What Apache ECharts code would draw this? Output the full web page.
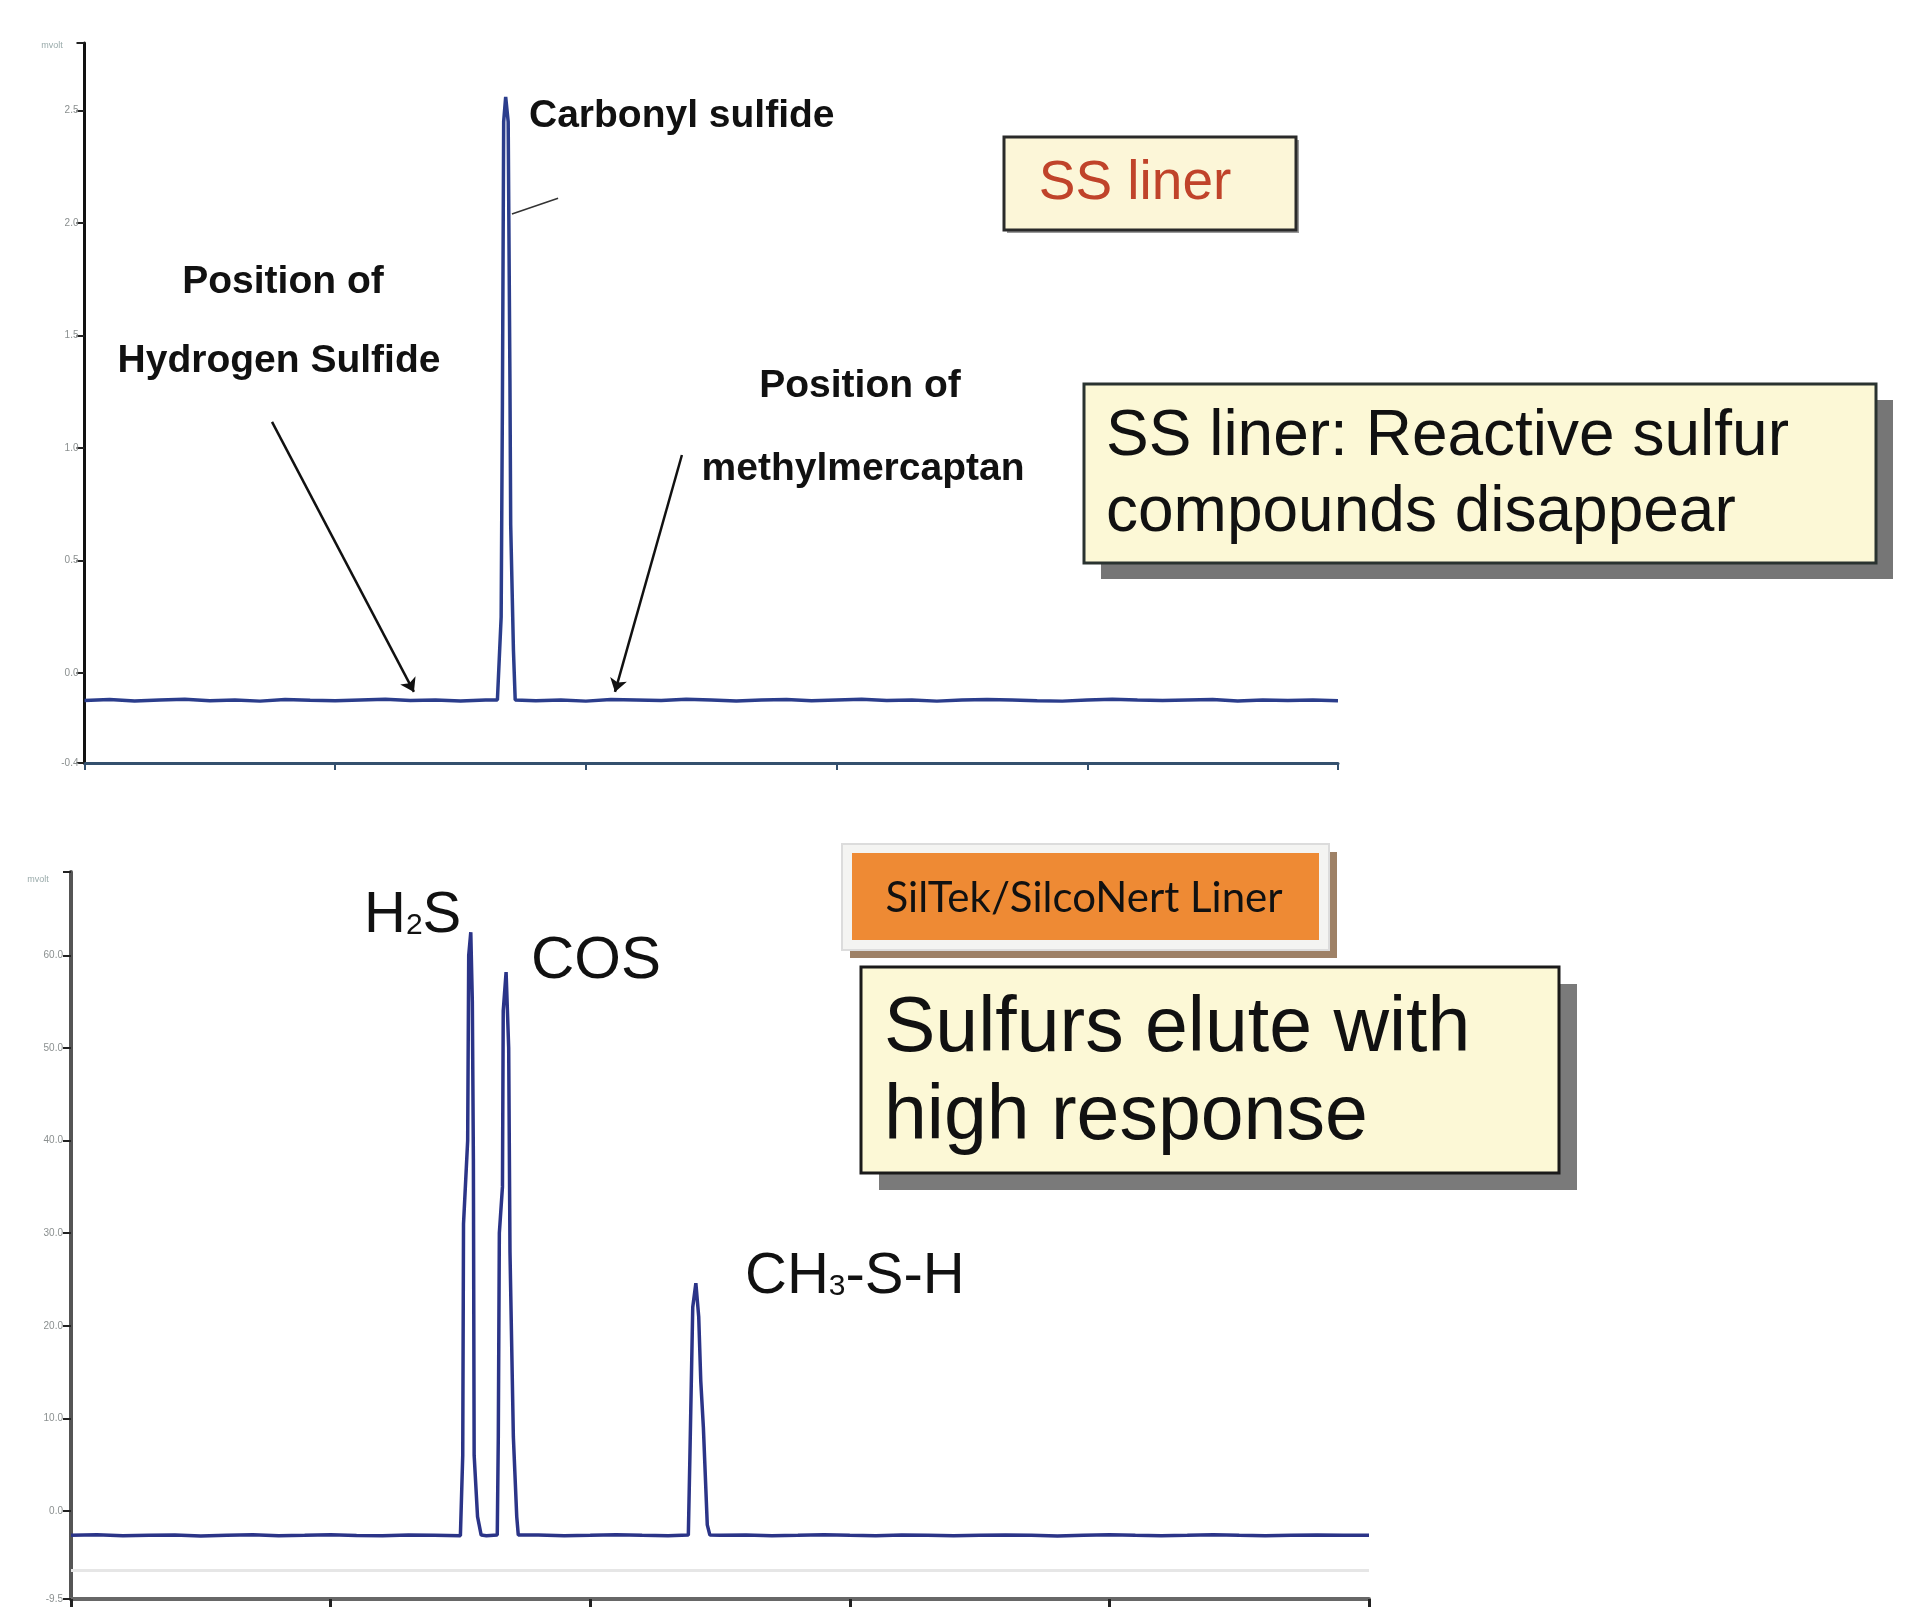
<!DOCTYPE html>
<html>
<head>
<meta charset="utf-8">
<script src="https://cdn.jsdelivr.net/npm/echarts@6.0.0/dist/echarts.min.js"></script>
<style>
html,body{margin:0;padding:0;background:#fff;}
#main{width:1920px;height:1608px;}
</style>
</head>
<body>
<div id="main"></div>
<script>
// ---------- DATA ----------
// Upper chromatogram: SS liner (retention time, min / signal, mvolt)
const ssTime = [0.0,0.1,0.2,0.3,0.4,0.5,0.6,0.7,0.8,0.9,1.0,1.1,1.2,1.3,1.4,1.5,1.6,
  1.647,1.662,1.667,1.672,1.680,1.690,1.697,1.700,1.711,1.718,
  1.8,1.9,2.0,2.1,2.2,2.3,2.4,2.5,2.6,2.7,2.8,2.9,3.0,3.1,3.2,3.3,3.4,3.5,3.6,3.7,3.8,3.9,4.0,4.1,4.2,4.3,4.4,4.5,4.6,4.7,4.8,4.9,5.0];
const ssSignal = [-0.122,-0.118,-0.124,-0.12,-0.117,-0.123,-0.12,-0.125,-0.118,-0.121,-0.123,-0.12,-0.117,-0.122,-0.12,-0.124,-0.12,
  -0.12,0.25,1.2,2.45,2.56,2.45,1.3,0.66,0.1,-0.12,
  -0.123,-0.12,-0.125,-0.118,-0.12,-0.122,-0.117,-0.12,-0.124,-0.12,-0.118,-0.123,-0.12,-0.117,-0.122,-0.12,-0.125,-0.12,-0.118,-0.12,-0.123,-0.125,-0.12,-0.117,-0.12,-0.122,-0.12,-0.118,-0.124,-0.12,-0.122,-0.12,-0.123];

// Lower chromatogram: SilTek/SilcoNert liner
const stTime = [0.0,0.1,0.2,0.3,0.4,0.5,0.6,0.7,0.8,0.9,1.0,1.1,1.2,1.3,1.4,1.5,
  1.505,1.509,1.512,1.528,1.532,1.540,1.546,1.550,1.553,1.566,1.580,
  1.6,
  1.642,1.646,1.650,1.662,1.665,1.676,1.686,1.691,1.704,1.717,1.723,
  1.8,1.9,2.0,2.1,2.2,2.3,
  2.378,2.384,2.395,2.407,2.418,2.426,2.436,2.451,2.461,
  2.5,2.6,2.7,2.8,2.9,3.0,3.1,3.2,3.3,3.4,3.5,3.6,3.7,3.8,3.9,4.0,4.1,4.2,4.3,4.4,4.5,4.6,4.7,4.8,4.9,5.0];
const stSignal = [-2.62,-2.55,-2.68,-2.62,-2.58,-2.7,-2.62,-2.57,-2.66,-2.62,-2.56,-2.63,-2.67,-2.58,-2.62,-2.66,
  -2.6,6,31,40,60,62.5,55,38,6,-0.6,-2.6,
  -2.66,
  -2.6,8,30,35,54,58.2,50,28,8,-0.6,-2.6,
  -2.58,-2.67,-2.62,-2.56,-2.62,-2.66,
  -2.6,5.8,22,24.6,21,14,9,-1.5,-2.6,
  -2.62,-2.58,-2.66,-2.62,-2.56,-2.62,-2.67,-2.58,-2.62,-2.66,-2.62,-2.58,-2.62,-2.7,-2.62,-2.57,-2.62,-2.66,-2.62,-2.56,-2.62,-2.67,-2.62,-2.58,-2.62,-2.62];

// Axis tick values
const ssYTicks = [-0.4,0.0,0.5,1.0,1.5,2.0,2.5];
const stYTicks = [-9.5,0,10,20,30,40,50,60];
const yUnit = 'mvolt';

// Arrows in the upper panel (data coordinates: start -> end)
const ssArrowH2S = [[0.748,1.116],[1.314,-0.084]];
const ssArrowMeSH = [[2.383,0.969],[2.116,-0.084]];
const ssLeaderCOS = [[1.705,2.04],[1.889,2.11]];
const stFaintLine = -6.4;

// ---------- CHART ----------
const chart = echarts.init(document.getElementById('main'), null, {renderer:'canvas'});
const FONT = '"Liberation Sans", Arial, sans-serif';

function boxed(x, y, w, h, shadowDx, shadowDy, shadowColor, fill, stroke, lw){
  return [
    {type:'rect', shape:{x:x+shadowDx, y:y+shadowDy, width:w, height:h}, style:{fill:shadowColor}, z:10},
    {type:'rect', shape:{x:x, y:y, width:w, height:h}, style:{fill:fill, stroke:stroke, lineWidth:lw}, z:11}
  ];
}
function txt(text, x, y, font, fill, align, z){
  return {type:'text', x:x, y:y, z:z||12, style:{text:text, font:font, fill:fill,
    textAlign:align||'left', align:align||'left', textVerticalAlign:'middle', verticalAlign:'middle'}};
}

const graphics = [].concat(
  // y unit labels
  txt(yUnit, 52, 46, '9px ' + FONT, '#9aa', 'center'),
  txt(yUnit, 38, 880, '9px ' + FONT, '#9aa', 'center'),
  // Upper panel labels
  txt('Carbonyl sulfide', 529, 116, 'bold 39px ' + FONT, '#111', 'left'),
  txt('Position of', 283, 282, 'bold 39px ' + FONT, '#111', 'center'),
  txt('Hydrogen Sulfide', 279, 361, 'bold 39px ' + FONT, '#111', 'center'),
  txt('Position of', 860, 386, 'bold 39px ' + FONT, '#111', 'center'),
  txt('methylmercaptan', 863, 469, 'bold 39px ' + FONT, '#111', 'center'),
  // SS liner box
  boxed(1004, 137, 292, 93, 3, 3, '#9a9a9a', '#fcf6d8', '#2a2a2a', 3),
  [{type:'text', x:1135, y:184, z:12, style:{text:'SS liner', font:'55px ' + FONT, fill:'#c0432a',
    textAlign:'center', align:'center', textVerticalAlign:'middle', verticalAlign:'middle'}}],
  // Reactive sulfur box
  boxed(1084, 384, 792, 179, 17, 16, '#767676', '#fcf8d6', '#2a3330', 3),
  txt('SS liner: Reactive sulfur', 1106, 437, '64px ' + FONT, '#111', 'left'),
  txt('compounds disappear', 1106, 513, '64px ' + FONT, '#111', 'left'),
  // Lower panel: orange box
  [{type:'rect', shape:{x:850, y:852, width:487, height:106}, style:{fill:'#9e8166'}, z:10},
   {type:'rect', shape:{x:842, y:844, width:487, height:106}, style:{fill:'#f4f4f2', stroke:'#dcdcdc', lineWidth:2}, z:11},
   {type:'rect', shape:{x:852, y:853, width:467, height:87}, style:{fill:'#ee8a34'}, z:12}],
  [{type:'text', x:1084, y:898, z:13, style:{text:'SilTek/SilcoNert Liner', font:'42px Lato, "Open Sans", sans-serif', fill:'#111',
    textAlign:'center', align:'center', textVerticalAlign:'middle', verticalAlign:'middle'}}],
  // Sulfurs elute box
  boxed(861, 967, 698, 206, 18, 17, '#7a7a7a', '#fcf8d6', '#1a1a1a', 3),
  txt('Sulfurs elute with', 884, 1030, '77px ' + FONT, '#111', 'left'),
  txt('high response', 884, 1118, '77px ' + FONT, '#111', 'left'),
  // Peak labels
  [{type:'text', x:364, y:916, z:12, style:{text:'{a|H}{b|2}{a|S}', font:'58px ' + FONT, fill:'#111',
    textVerticalAlign:'middle', verticalAlign:'middle',
    rich:{a:{fontSize:58, fontFamily:FONT, fill:'#111', color:'#111'}, b:{fontSize:30, fontFamily:FONT, fill:'#111', color:'#111', verticalAlign:'bottom', padding:[0,0,4,0]}}}}],
  txt('COS', 531, 961, '60px ' + FONT, '#111', 'left'),
  [{type:'text', x:745, y:1277, z:12, style:{text:'{a|CH}{b|3}{a|-S-H}', font:'58px ' + FONT, fill:'#111',
    textVerticalAlign:'middle', verticalAlign:'middle',
    rich:{a:{fontSize:58, fontFamily:FONT, fill:'#111', color:'#111'}, b:{fontSize:30, fontFamily:FONT, fill:'#111', color:'#111', verticalAlign:'bottom', padding:[0,0,4,0]}}}}]
);

const option = {
  backgroundColor:'#ffffff',
  animation:false,
  grid:[
    {left:84.5, top:43, width:1253.5, height:720},
    {left:71, top:872, width:1298, height:727}
  ],
  xAxis:[
    {gridIndex:0, type:'value', min:0, max:5, interval:1,
     axisLine:{show:true, onZero:false, lineStyle:{color:'#34506e', width:3}},
     axisTick:{show:true, length:7, lineStyle:{color:'#34506e', width:2}},
     axisLabel:{show:false}, splitLine:{show:false}},
    {gridIndex:1, type:'value', min:0, max:5, interval:1,
     axisLine:{show:true, onZero:false, lineStyle:{color:'#676767', width:4}},
     axisTick:{show:true, length:8, lineStyle:{color:'#222', width:3}},
     axisLabel:{show:false}, splitLine:{show:false}}
  ],
  yAxis:[
    {gridIndex:0, type:'value', min:-0.4, max:2.8,
     axisLine:{show:true, onZero:false, lineStyle:{color:'#111', width:3}},
     axisTick:{show:true, length:8, customValues:ssYTicks.concat([2.8]), lineStyle:{color:'#222', width:2}},
     axisLabel:{show:true, customValues:ssYTicks, formatter:v=>v.toFixed(1), fontSize:10, color:'#8a8f8f', margin:6, fontFamily:FONT},
     splitLine:{show:false}},
    {gridIndex:1, type:'value', min:-9.5, max:69,
     axisLine:{show:true, onZero:false, lineStyle:{color:'#555', width:4}},
     axisTick:{show:true, length:8, customValues:stYTicks.concat([69]), lineStyle:{color:'#222', width:2}},
     axisLabel:{show:true, customValues:stYTicks, formatter:v=>v.toFixed(1), fontSize:10, color:'#8a8f8f', margin:8, fontFamily:FONT},
     splitLine:{show:false}}
  ],
  series:[
    {type:'line', xAxisIndex:0, yAxisIndex:0, showSymbol:false, silent:true,
     data: ssTime.map((t,i)=>[t, ssSignal[i]]),
     lineStyle:{color:'#2b3d8c', width:3.5},
     markLine:{silent:true, animation:false, label:{show:false}, symbol:['none','arrow'], symbolSize:13,
       lineStyle:{color:'#111', width:2.5, type:'solid'},
       data:[
         [{coord:ssArrowH2S[0]},{coord:ssArrowH2S[1]}],
         [{coord:ssArrowMeSH[0]},{coord:ssArrowMeSH[1]}],
         [{coord:ssLeaderCOS[0], symbol:'none'},{coord:ssLeaderCOS[1], symbol:'none', lineStyle:{width:1.5, color:'#333'}}]
       ]}
    },
    {type:'line', xAxisIndex:1, yAxisIndex:1, showSymbol:false, silent:true,
     data: stTime.map((t,i)=>[t, stSignal[i]]),
     lineStyle:{color:'#2b3488', width:3.5},
     markLine:{silent:true, animation:false, label:{show:false}, symbol:['none','none'],
       lineStyle:{color:'#e6e6e6', width:3, type:'solid'},
       data:[{yAxis:stFaintLine}]}
    }
  ],
  graphic:{elements:graphics}
};
chart.setOption(option);
</script>
</body>
</html>
